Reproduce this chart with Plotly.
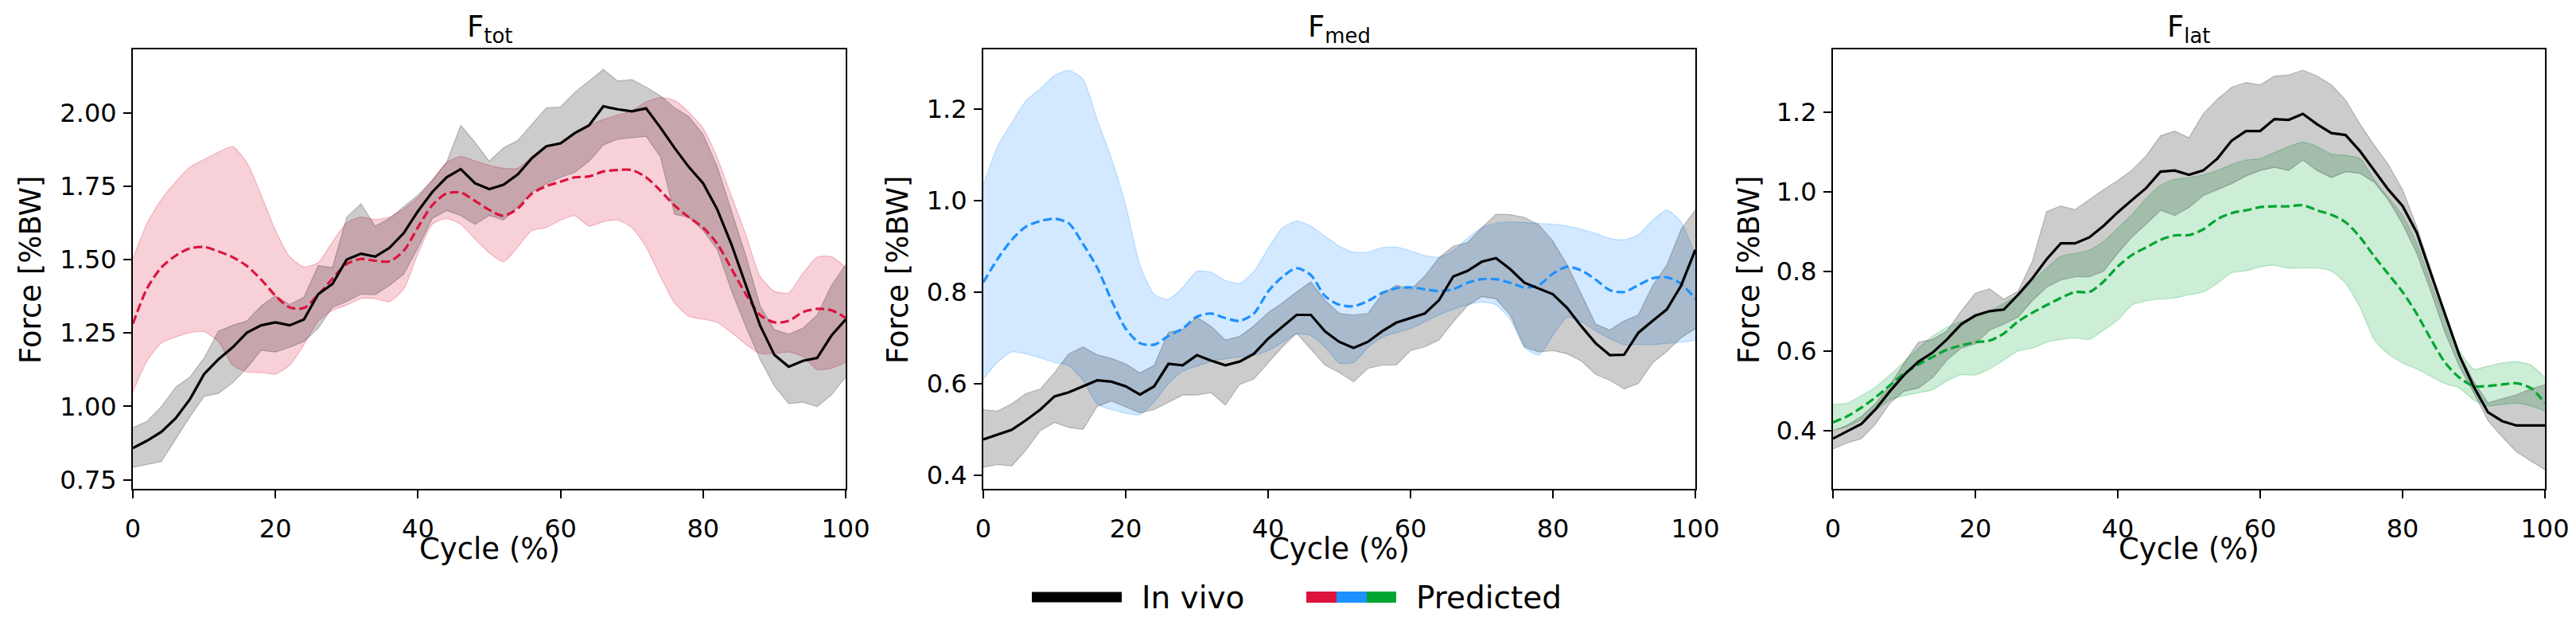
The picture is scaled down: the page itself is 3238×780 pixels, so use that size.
import plotly.graph_objects as go

W, H = 3238, 780
OX, OY = 8, 8  # page body margin compensation

cycle = list(range(0, 101, 2))

# ---------------- F_tot ----------------
tot_vivo_mean = [0.858, 0.883, 0.913, 0.959, 1.024, 1.110, 1.160, 1.201, 1.251, 1.276, 1.286, 1.276, 1.296, 1.382, 1.417, 1.500, 1.520, 1.510, 1.540, 1.590, 1.665, 1.730, 1.780, 1.808, 1.760, 1.740, 1.755, 1.790, 1.846, 1.886, 1.896, 1.931, 1.957, 2.022, 2.012, 2.005, 2.015, 1.950, 1.880, 1.815, 1.760, 1.670, 1.550, 1.410, 1.275, 1.175, 1.135, 1.155, 1.165, 1.241, 1.296]
tot_vivo_hi = [0.928, 0.949, 0.999, 1.065, 1.100, 1.165, 1.256, 1.276, 1.291, 1.342, 1.377, 1.347, 1.372, 1.480, 1.473, 1.644, 1.690, 1.614, 1.640, 1.680, 1.720, 1.770, 1.830, 1.957, 1.900, 1.835, 1.881, 1.906, 1.962, 2.017, 2.020, 2.070, 2.108, 2.148, 2.108, 2.113, 2.088, 2.058, 2.017, 1.987, 1.926, 1.815, 1.664, 1.513, 1.342, 1.261, 1.246, 1.266, 1.311, 1.412, 1.483]
tot_vivo_lo = [0.792, 0.802, 0.812, 0.888, 0.964, 1.034, 1.044, 1.080, 1.130, 1.191, 1.185, 1.201, 1.221, 1.266, 1.337, 1.357, 1.382, 1.380, 1.412, 1.450, 1.540, 1.640, 1.667, 1.650, 1.620, 1.650, 1.635, 1.680, 1.730, 1.757, 1.780, 1.797, 1.835, 1.890, 1.910, 1.915, 1.920, 1.850, 1.654, 1.644, 1.599, 1.533, 1.392, 1.271, 1.160, 1.069, 1.009, 1.014, 0.999, 1.039, 1.100]
tot_pred_mean = [1.281, 1.402, 1.473, 1.513, 1.538, 1.543, 1.528, 1.508, 1.478, 1.432, 1.377, 1.337, 1.335, 1.380, 1.435, 1.485, 1.502, 1.496, 1.494, 1.530, 1.610, 1.685, 1.725, 1.728, 1.700, 1.669, 1.649, 1.674, 1.725, 1.750, 1.765, 1.780, 1.783, 1.800, 1.805, 1.805, 1.780, 1.735, 1.684, 1.644, 1.609, 1.553, 1.468, 1.382, 1.311, 1.286, 1.291, 1.321, 1.332, 1.327, 1.301]
tot_pred_hi = [1.503, 1.624, 1.705, 1.765, 1.815, 1.841, 1.866, 1.885, 1.830, 1.720, 1.600, 1.510, 1.475, 1.490, 1.560, 1.625, 1.645, 1.636, 1.645, 1.672, 1.712, 1.770, 1.830, 1.851, 1.836, 1.821, 1.811, 1.811, 1.851, 1.886, 1.896, 1.931, 1.957, 1.977, 1.992, 2.007, 2.037, 2.052, 2.042, 2.002, 1.947, 1.846, 1.715, 1.584, 1.443, 1.392, 1.387, 1.453, 1.508, 1.510, 1.473]
tot_pred_lo = [1.049, 1.155, 1.216, 1.236, 1.251, 1.254, 1.221, 1.140, 1.117, 1.115, 1.110, 1.140, 1.210, 1.290, 1.327, 1.345, 1.367, 1.367, 1.357, 1.400, 1.520, 1.620, 1.640, 1.620, 1.570, 1.523, 1.493, 1.543, 1.599, 1.609, 1.634, 1.649, 1.614, 1.629, 1.634, 1.609, 1.543, 1.443, 1.352, 1.307, 1.297, 1.286, 1.251, 1.211, 1.180, 1.180, 1.185, 1.170, 1.125, 1.130, 1.150]

# ---------------- F_med ----------------
med_vivo_mean = [0.478, 0.488, 0.499, 0.520, 0.543, 0.572, 0.581, 0.594, 0.607, 0.604, 0.594, 0.576, 0.594, 0.643, 0.640, 0.662, 0.650, 0.640, 0.648, 0.665, 0.698, 0.724, 0.750, 0.750, 0.714, 0.691, 0.678, 0.691, 0.714, 0.733, 0.743, 0.753, 0.782, 0.834, 0.846, 0.866, 0.874, 0.850, 0.820, 0.808, 0.795, 0.765, 0.725, 0.688, 0.662, 0.663, 0.711, 0.737, 0.762, 0.814, 0.892]
med_vivo_hi = [0.543, 0.540, 0.556, 0.578, 0.588, 0.624, 0.665, 0.680, 0.663, 0.655, 0.643, 0.623, 0.640, 0.712, 0.718, 0.745, 0.725, 0.695, 0.703, 0.726, 0.755, 0.776, 0.800, 0.822, 0.782, 0.753, 0.750, 0.753, 0.795, 0.815, 0.805, 0.835, 0.875, 0.900, 0.908, 0.940, 0.970, 0.969, 0.963, 0.947, 0.911, 0.859, 0.795, 0.730, 0.717, 0.737, 0.750, 0.814, 0.859, 0.937, 0.979]
med_vivo_lo = [0.417, 0.423, 0.420, 0.455, 0.497, 0.515, 0.504, 0.500, 0.550, 0.562, 0.549, 0.536, 0.543, 0.559, 0.575, 0.575, 0.580, 0.553, 0.598, 0.610, 0.645, 0.680, 0.710, 0.675, 0.640, 0.624, 0.604, 0.633, 0.640, 0.640, 0.672, 0.680, 0.695, 0.735, 0.770, 0.790, 0.785, 0.750, 0.680, 0.669, 0.672, 0.665, 0.649, 0.620, 0.607, 0.588, 0.600, 0.645, 0.670, 0.700, 0.720]
med_pred_mean = [0.821, 0.872, 0.914, 0.943, 0.955, 0.960, 0.950, 0.905, 0.853, 0.782, 0.720, 0.688, 0.685, 0.704, 0.720, 0.746, 0.753, 0.743, 0.737, 0.753, 0.801, 0.833, 0.852, 0.837, 0.791, 0.772, 0.769, 0.780, 0.798, 0.808, 0.810, 0.806, 0.802, 0.806, 0.820, 0.828, 0.828, 0.820, 0.810, 0.815, 0.840, 0.855, 0.847, 0.827, 0.804, 0.800, 0.815, 0.830, 0.832, 0.818, 0.785]
med_pred_hi = [1.034, 1.118, 1.170, 1.218, 1.244, 1.273, 1.284, 1.265, 1.176, 1.092, 0.989, 0.859, 0.795, 0.784, 0.810, 0.845, 0.843, 0.825, 0.819, 0.845, 0.895, 0.940, 0.955, 0.944, 0.922, 0.900, 0.887, 0.887, 0.897, 0.898, 0.890, 0.880, 0.876, 0.890, 0.918, 0.940, 0.950, 0.953, 0.952, 0.950, 0.948, 0.944, 0.937, 0.928, 0.917, 0.914, 0.925, 0.957, 0.979, 0.953, 0.880]
med_pred_lo = [0.610, 0.646, 0.669, 0.665, 0.656, 0.646, 0.639, 0.607, 0.555, 0.543, 0.535, 0.532, 0.560, 0.600, 0.627, 0.638, 0.648, 0.654, 0.658, 0.662, 0.672, 0.690, 0.708, 0.705, 0.680, 0.645, 0.646, 0.678, 0.701, 0.711, 0.720, 0.735, 0.750, 0.762, 0.772, 0.778, 0.772, 0.740, 0.680, 0.662, 0.705, 0.745, 0.735, 0.715, 0.698, 0.685, 0.685, 0.685, 0.688, 0.690, 0.695]

# ---------------- F_lat ----------------
lat_vivo_mean = [0.380, 0.399, 0.417, 0.454, 0.499, 0.540, 0.573, 0.596, 0.629, 0.667, 0.689, 0.700, 0.704, 0.741, 0.782, 0.830, 0.870, 0.870, 0.885, 0.914, 0.948, 0.979, 1.009, 1.050, 1.053, 1.042, 1.053, 1.083, 1.128, 1.152, 1.152, 1.182, 1.180, 1.195, 1.169, 1.147, 1.142, 1.102, 1.053, 1.005, 0.964, 0.897, 0.793, 0.689, 0.588, 0.510, 0.446, 0.424, 0.413, 0.413, 0.413]
lat_vivo_hi = [0.399, 0.414, 0.436, 0.469, 0.514, 0.570, 0.622, 0.629, 0.650, 0.700, 0.745, 0.756, 0.730, 0.750, 0.825, 0.950, 0.964, 0.955, 0.980, 1.005, 1.028, 1.054, 1.090, 1.140, 1.152, 1.135, 1.195, 1.232, 1.262, 1.274, 1.268, 1.290, 1.293, 1.305, 1.290, 1.268, 1.230, 1.170, 1.117, 1.068, 1.005, 0.912, 0.804, 0.692, 0.592, 0.523, 0.470, 0.480, 0.490, 0.505, 0.515]
lat_vivo_lo = [0.354, 0.369, 0.380, 0.417, 0.469, 0.499, 0.507, 0.533, 0.577, 0.607, 0.618, 0.652, 0.667, 0.685, 0.726, 0.760, 0.778, 0.786, 0.786, 0.800, 0.845, 0.886, 0.919, 0.953, 0.940, 0.960, 0.990, 1.005, 1.020, 1.039, 1.053, 1.061, 1.053, 1.079, 1.053, 1.035, 1.050, 1.046, 1.024, 0.979, 0.919, 0.845, 0.748, 0.644, 0.560, 0.495, 0.425, 0.384, 0.347, 0.324, 0.302]
lat_pred_mean = [0.421, 0.436, 0.458, 0.484, 0.514, 0.544, 0.566, 0.585, 0.603, 0.614, 0.622, 0.626, 0.644, 0.674, 0.696, 0.715, 0.733, 0.748, 0.748, 0.774, 0.812, 0.841, 0.860, 0.879, 0.890, 0.891, 0.905, 0.931, 0.946, 0.953, 0.961, 0.963, 0.963, 0.966, 0.953, 0.942, 0.923, 0.886, 0.838, 0.793, 0.748, 0.693, 0.629, 0.570, 0.533, 0.512, 0.512, 0.516, 0.519, 0.507, 0.469]
lat_pred_hi = [0.466, 0.469, 0.488, 0.510, 0.540, 0.573, 0.607, 0.637, 0.659, 0.674, 0.685, 0.700, 0.719, 0.741, 0.774, 0.808, 0.838, 0.845, 0.853, 0.875, 0.908, 0.942, 0.983, 1.016, 1.031, 1.035, 1.042, 1.053, 1.068, 1.079, 1.083, 1.098, 1.113, 1.124, 1.113, 1.094, 1.091, 1.083, 1.030, 0.985, 0.940, 0.870, 0.770, 0.680, 0.600, 0.555, 0.562, 0.570, 0.573, 0.565, 0.533]
lat_pred_lo = [0.402, 0.410, 0.428, 0.451, 0.477, 0.488, 0.495, 0.503, 0.525, 0.540, 0.540, 0.555, 0.577, 0.600, 0.607, 0.622, 0.629, 0.633, 0.629, 0.652, 0.678, 0.715, 0.726, 0.730, 0.733, 0.741, 0.748, 0.770, 0.796, 0.801, 0.811, 0.815, 0.808, 0.808, 0.808, 0.800, 0.770, 0.711, 0.629, 0.592, 0.570, 0.555, 0.536, 0.518, 0.507, 0.477, 0.462, 0.466, 0.469, 0.462, 0.450]

panel_titles = ["F<sub>tot</sub>", "F<sub>med</sub>", "F<sub>lat</sub>"]
x_title = "Cycle (%)"
y_title = "Force [%BW]"
pred_colors = [(220, 20, 60), (30, 144, 255), (0, 166, 48)]
y_ranges = [[0.719, 2.216], [0.370, 1.330], [0.254, 1.357]]
y_ticks = [[0.75, 1.00, 1.25, 1.50, 1.75, 2.00], [0.4, 0.6, 0.8, 1.0, 1.2], [0.4, 0.6, 0.8, 1.0, 1.2]]
y_fmt = [".2f", ".1f", ".1f"]
x_ticks = [0, 20, 40, 60, 80, 100]
legend_labels = ["In vivo", "Predicted"]

panels = [
    (tot_vivo_mean, tot_vivo_lo, tot_vivo_hi, tot_pred_mean, tot_pred_lo, tot_pred_hi),
    (med_vivo_mean, med_vivo_lo, med_vivo_hi, med_pred_mean, med_pred_lo, med_pred_hi),
    (lat_vivo_mean, lat_vivo_lo, lat_vivo_hi, lat_pred_mean, lat_pred_lo, lat_pred_hi),
]


def px_x(p):
    return (p - OX) / W


def px_y(p):
    return 1 - (p - OY) / H


panel_px = [(167, 1063), (1236, 2131), (2304, 3199)]
x_domains = [[px_x(a), px_x(b)] for a, b in panel_px]
y_domain = [px_y(614), px_y(62)]
ytitle_px = [38, 1128, 2198]
FONT = "DejaVu Sans"


def rgba(c, a):
    return "rgba(%d,%d,%d,%.2f)" % (c[0], c[1], c[2], a)


fig = go.Figure()

for i, (vm, vl, vh, pm, pl, ph) in enumerate(panels):
    xa = "x" if i == 0 else "x%d" % (i + 1)
    ya = "y" if i == 0 else "y%d" % (i + 1)
    c = pred_colors[i]
    fig.add_trace(go.Scatter(x=cycle, y=pl, xaxis=xa, yaxis=ya, mode="lines",
                             line=dict(color=rgba(c, 0.25), width=1.2, shape="spline", smoothing=0.6),
                             showlegend=False, hoverinfo="skip"))
    fig.add_trace(go.Scatter(x=cycle, y=ph, xaxis=xa, yaxis=ya, mode="lines", fill="tonexty",
                             fillcolor=rgba(c, 0.2),
                             line=dict(color=rgba(c, 0.25), width=1.2, shape="spline", smoothing=0.6),
                             showlegend=False, hoverinfo="skip"))
    fig.add_trace(go.Scatter(x=cycle, y=vl, xaxis=xa, yaxis=ya, mode="lines",
                             line=dict(color="rgba(0,0,0,0.22)", width=1.2),
                             showlegend=False, hoverinfo="skip"))
    fig.add_trace(go.Scatter(x=cycle, y=vh, xaxis=xa, yaxis=ya, mode="lines", fill="tonexty",
                             fillcolor="rgba(0,0,0,0.2)",
                             line=dict(color="rgba(0,0,0,0.22)", width=1.2),
                             showlegend=False, hoverinfo="skip"))
    fig.add_trace(go.Scatter(x=cycle, y=pm, xaxis=xa, yaxis=ya, mode="lines",
                             line=dict(color=rgba(c, 1), width=3.2, dash="11px,5px", shape="spline", smoothing=0.8),
                             showlegend=False, hoverinfo="skip"))
    fig.add_trace(go.Scatter(x=cycle, y=vm, xaxis=xa, yaxis=ya, mode="lines",
                             line=dict(color="black", width=3.2),
                             showlegend=False, hoverinfo="skip"))

axis_common = dict(showline=True, linecolor="black", linewidth=2, mirror=True,
                   ticks="outside", ticklen=10, tickwidth=2, tickcolor="black",
                   showgrid=False, zeroline=False, automargin=False,
                   tickfont=dict(family=FONT, size=32, color="black"))

layout = dict(width=W, height=H, margin=dict(l=0, r=0, t=0, b=0),
              paper_bgcolor="white", plot_bgcolor="white",
              font=dict(family=FONT, color="black"), showlegend=False)

for i in range(3):
    xk = "xaxis" if i == 0 else "xaxis%d" % (i + 1)
    yk = "yaxis" if i == 0 else "yaxis%d" % (i + 1)
    ya_id = "y" if i == 0 else "y%d" % (i + 1)
    xa_id = "x" if i == 0 else "x%d" % (i + 1)
    layout[xk] = dict(axis_common, domain=x_domains[i], range=[0, 100], anchor=ya_id, tickvals=x_ticks,
                      ticklabelstandoff=11)
    layout[yk] = dict(axis_common, domain=y_domain, range=y_ranges[i], anchor=xa_id,
                      tickvals=y_ticks[i], tickformat=y_fmt[i], ticklabelstandoff=2)

fig.update_layout(**layout)

annotations = []
for i in range(3):
    cx = (x_domains[i][0] + x_domains[i][1]) / 2
    annotations.append(dict(text=panel_titles[i], x=cx, y=px_y(36), xref="paper", yref="paper",
                            xanchor="center", yanchor="middle", showarrow=False,
                            font=dict(family=FONT, size=37, color="black")))
    annotations.append(dict(text=x_title, x=cx, y=px_y(689), xref="paper", yref="paper",
                            xanchor="center", yanchor="middle", showarrow=False,
                            font=dict(family=FONT, size=37, color="black")))
    annotations.append(dict(text=y_title, x=px_x(ytitle_px[i]), y=px_y(339), xref="paper", yref="paper",
                            xanchor="center", yanchor="middle", showarrow=False, textangle=-90,
                            font=dict(family=FONT, size=37, color="black")))

shapes = []
leg_y = px_y(750)
shapes.append(dict(type="line", xref="paper", yref="paper", x0=px_x(1297), x1=px_x(1410), y0=leg_y, y1=leg_y,
                   line=dict(color="black", width=13)))
patch_edges = [1642, 1680, 1718, 1755]
for k in range(3):
    shapes.append(dict(type="rect", xref="paper", yref="paper",
                       x0=px_x(patch_edges[k]), x1=px_x(patch_edges[k + 1]),
                       y0=px_y(757), y1=px_y(743),
                       line=dict(width=0), fillcolor=rgba(pred_colors[k], 1)))
annotations.append(dict(text=legend_labels[0], x=px_x(1433), y=leg_y, xref="paper", yref="paper",
                        xanchor="left", yanchor="middle", showarrow=False,
                        font=dict(family=FONT, size=39, color="black")))
annotations.append(dict(text=legend_labels[1], x=px_x(1778), y=leg_y, xref="paper", yref="paper",
                        xanchor="left", yanchor="middle", showarrow=False,
                        font=dict(family=FONT, size=39, color="black")))

fig.update_layout(annotations=annotations, shapes=shapes)

fig.write_html("out.html")
